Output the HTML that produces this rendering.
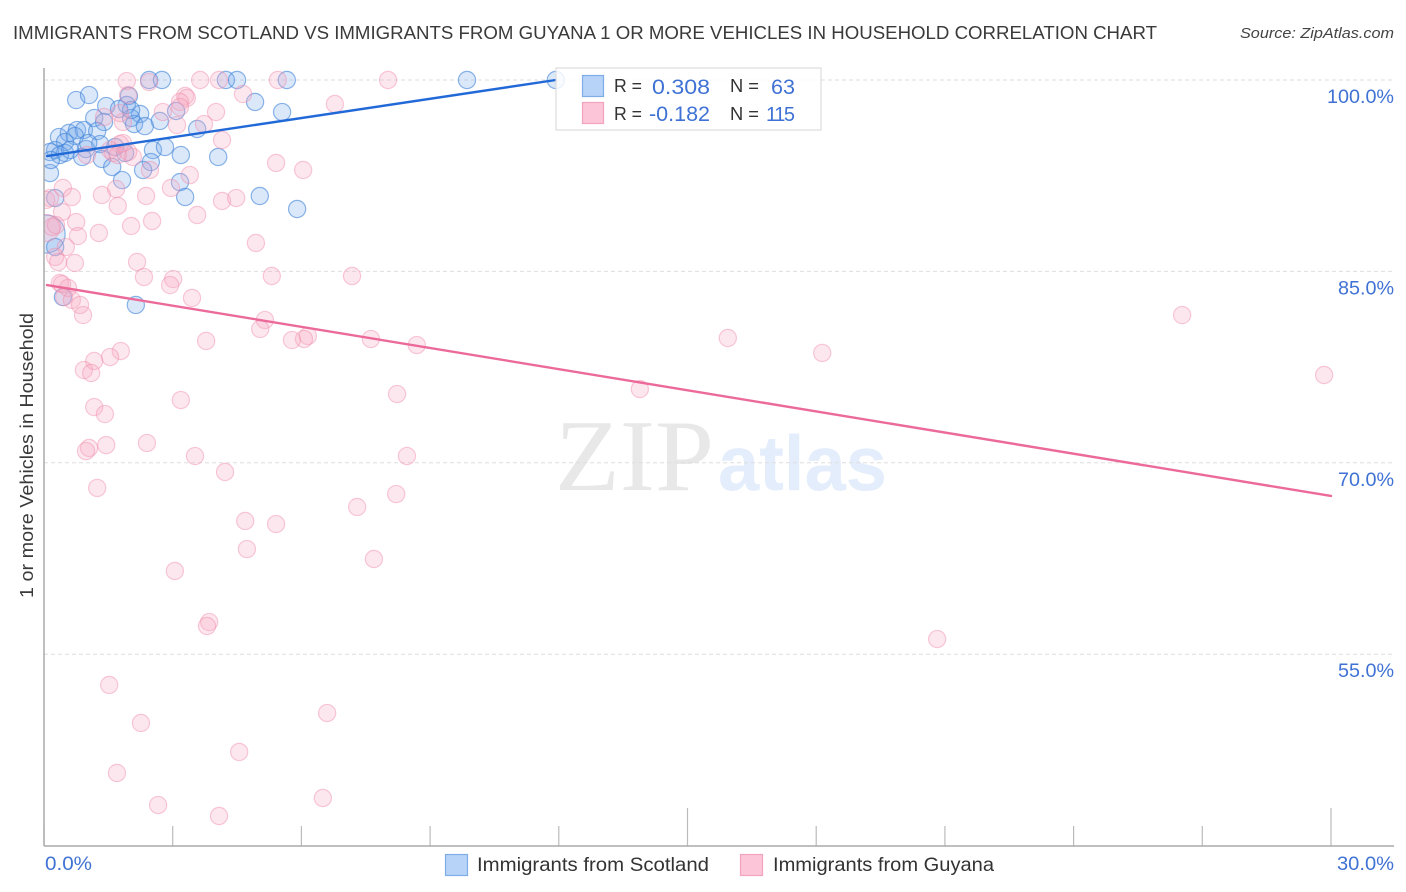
<!DOCTYPE html>
<html lang="en">
<head>
<meta charset="utf-8">
<title>Immigrants from Scotland vs Immigrants from Guyana correlation chart</title>
<style>
html,body{margin:0;padding:0;background:#fff;width:1406px;height:892px;overflow:hidden}
svg{display:block;font-family:"Liberation Sans",sans-serif}
</style>
</head>
<body>
<svg id="chart" xmlns="http://www.w3.org/2000/svg" width="1406" height="892" viewBox="0 0 1406 892">
  <defs>
    <clipPath id="plot-clip"><rect x="44" y="60" width="1362" height="786"/></clipPath>
  </defs>
  <text x="13" y="39" font-size="18" fill="#3a3a3a" textLength="1144" lengthAdjust="spacingAndGlyphs">IMMIGRANTS FROM SCOTLAND VS IMMIGRANTS FROM GUYANA 1 OR MORE VEHICLES IN HOUSEHOLD CORRELATION CHART</text>
  <text x="1240" y="38" font-size="15" font-style="italic" fill="#444" textLength="154" lengthAdjust="spacingAndGlyphs">Source: ZipAtlas.com</text>
  <g>
    <text x="555" y="490" font-family="'Liberation Serif',serif" font-size="102" fill="#e8e8e8" textLength="159" lengthAdjust="spacingAndGlyphs">ZIP</text>
    <text x="718" y="490" font-family="'Liberation Sans',sans-serif" font-weight="bold" font-size="78" fill="#e4edfb" textLength="169" lengthAdjust="spacingAndGlyphs">atlas</text>
  </g>
  <g id="grid"></g>
  <g id="x-ticks"></g>
  <g id="points" clip-path="url(#plot-clip)"></g>
  <g id="trends"></g>
  <line x1="44" y1="68" x2="44" y2="846" stroke="#aaa" stroke-width="1.5"/>
  <line x1="44" y1="846" x2="1394" y2="846" stroke="#aaa" stroke-width="1.5"/>
  <g id="y-labels"></g>
  <g id="x-labels"></g>
  <text transform="translate(33,598) rotate(-90)" font-size="18" fill="#3a3a3a" textLength="285" lengthAdjust="spacingAndGlyphs">1 or more Vehicles in Household</text>

  <g>
    <rect x="556" y="68" width="265" height="62" fill="#fff" fill-opacity="0.82" stroke="#ddd" stroke-width="1.2"/>
    <rect x="582.5" y="75.5" width="21" height="21" fill="#b7d3f7" stroke="#7fade8" stroke-width="1.2"/>
    <rect x="582.5" y="102.5" width="21" height="21" fill="#fcc5d8" stroke="#f4a3bf" stroke-width="1.2"/>
    <text x="614" y="92" font-size="18" fill="#333" textLength="28" lengthAdjust="spacingAndGlyphs">R =</text>
    <text x="652" y="94" font-size="21" fill="#3f72d4" textLength="58" lengthAdjust="spacingAndGlyphs">0.308</text>
    <text x="730" y="92" font-size="18" fill="#333" textLength="29" lengthAdjust="spacingAndGlyphs">N =</text>
    <text x="771" y="94" font-size="21" fill="#3f72d4" textLength="24" lengthAdjust="spacingAndGlyphs">63</text>
    <text x="614" y="120" font-size="18" fill="#333" textLength="28" lengthAdjust="spacingAndGlyphs">R =</text>
    <text x="649" y="121" font-size="21" fill="#3f72d4" textLength="61" lengthAdjust="spacingAndGlyphs">-0.182</text>
    <text x="730" y="120" font-size="18" fill="#333" textLength="29" lengthAdjust="spacingAndGlyphs">N =</text>
    <text x="766" y="121" font-size="20" fill="#3f72d4" textLength="29" lengthAdjust="spacing">115</text>
  </g>

  <g>
    <rect x="445.5" y="854.5" width="22" height="21" fill="#b7d3f7" stroke="#7fade8" stroke-width="1.2"/>
    <text x="477" y="871" font-size="19.5" fill="#333" textLength="232" lengthAdjust="spacingAndGlyphs">Immigrants from Scotland</text>
    <rect x="740.5" y="854.5" width="22" height="21" fill="#fcc5d8" stroke="#f4a3bf" stroke-width="1.2"/>
    <text x="773" y="871" font-size="19.5" fill="#333" textLength="221" lengthAdjust="spacingAndGlyphs">Immigrants from Guyana</text>
  </g>
</svg>
<script>
const xTickValues = [0, 3, 6, 9, 12, 15, 18, 21, 24, 27, 30];
const xLabelValues = [0, 30];
const xLabelText = ["0.0%", "30.0%"];
const yTickValues = [100, 85, 70, 55];
const yLabelText = ["100.0%", "85.0%", "70.0%", "55.0%"];

const scotlandX = [2.45,2.75,4.24,4.50,5.66,9.86,11.93,0.75,1.05,1.98,1.45,1.93,1.75,4.92,5.55,2.24,2.03,1.17,1.40,2.70,3.08,3.57,0.35,0.58,0.77,0.93,1.24,0.72,0.49,2.10,2.35,1.31,2.54,2.82,3.19,4.06,0.26,0.49,0.14,0.37,0.98,0.89,1.66,1.89,1.35,1.59,2.49,2.31,0.14,0.16,1.82,3.17,3.29,5.03,5.90,0.26,0.26,0.44,2.14,0.61,1.03,2.03];
const scotlandY = [100,100,100,100,100,100,100,98.43,98.82,98.75,97.96,98.04,97.73,98.28,97.49,97.34,97.02,97.02,96.71,96.79,97.57,96.16,95.53,95.85,96.08,96.08,96.00,95.61,95.14,96.55,96.39,94.98,94.51,94.75,94.12,93.97,94.51,94.28,94.36,94.12,94.59,93.97,94.75,94.28,93.81,93.18,93.57,92.95,92.71,93.73,92.16,92.00,90.83,90.91,89.89,90.75,86.91,82.99,82.37,94.51,95.06,97.65];
const scotlandLargeX = [0.05];
const scotlandLargeY = [87.93];

const guyanaX = [1.93,2.45,3.64,4.08,5.45,8.02,6.78,3.29,3.33,4.64,2.77,3.17,4.01,1.96,1.84,1.40,3.10,3.73,4.15,1.84,1.61,1.00,2.07,2.47,3.40,2.96,5.41,6.04,0.44,0.65,0.14,1.35,1.68,1.72,2.38,0.42,4.15,4.48,3.57,0.75,0.79,1.28,2.03,2.52,4.94,0.51,0.26,0.33,0.72,2.17,2.33,3.01,2.94,5.31,0.37,0.56,0.47,0.65,0.84,0.91,3.45,5.15,5.04,0.19,7.18,26.53,15.94,18.14,29.84,13.89,8.69,7.62,6.15,6.06,5.78,3.78,8.23,1.79,1.54,1.17,0.93,1.10,1.17,1.42,3.19,2.40,1.45,1.05,0.98,3.52,4.22,8.46,1.24,8.21,7.30,4.69,5.41,4.73,7.69,3.05,3.85,3.80,20.82,1.52,2.26,6.60,4.55,1.70,6.50,2.66,4.08,1.96,1.77,1.54,1.72,3.17,1.77,0.05,0.28,0.42];
const guyanaY = [99.92,99.84,100,100,100,100,98.12,98.75,98.59,98.90,97.49,98.28,97.49,98.82,96.71,97.10,96.47,96.55,95.30,95.06,94.28,94.12,93.97,92.95,92.55,91.54,93.50,92.95,91.54,90.83,90.75,90.99,91.46,90.13,90.91,89.66,90.52,90.75,89.42,88.87,87.77,88.01,88.56,88.95,87.23,86.91,86.13,85.74,85.66,85.74,84.56,84.40,83.93,84.64,84.09,83.70,82.99,82.76,82.37,81.58,82.92,81.19,80.49,88.48,84.64,81.58,79.78,78.61,76.88,75.78,79.23,79.70,79.94,79.70,79.62,79.55,75.39,78.76,78.29,77.98,77.27,77.04,74.37,73.82,74.92,71.55,71.39,71.16,70.92,70.53,69.28,70.53,68.03,67.55,66.54,65.44,65.20,63.24,62.46,61.52,57.52,57.21,56.19,52.59,49.61,50.39,47.34,45.69,43.73,43.18,42.32,94.36,94.98,94.51,94.12,97.88,97.41,90.60,88.63,84.00];
const guyanaLargeX = [0.05];
const guyanaLargeY = [88.40];

const scotlandTrendX = [0.07, 11.93];
const scotlandTrendY = [94.04, 100];
const guyanaTrendX = [0.07, 30];
const guyanaTrendY = [83.93, 67.40];

const SVG_NS = "http://www.w3.org/2000/svg";
function xScale(v) { return 44 + v * 42.9; }
function yScale(v) { return 80 + (100 - v) * 12.76; }
function make(tag, attrs, parent) {
  const el = document.createElementNS(SVG_NS, tag);
  for (const k in attrs) el.setAttribute(k, attrs[k]);
  parent.appendChild(el);
  return el;
}

const gridLayer = document.getElementById("grid");
yTickValues.forEach(function (v) {
  const el = make("line", { x1: 44, x2: 1394, y1: yScale(v), y2: yScale(v), stroke: "#dedede", "stroke-width": 1, "stroke-dasharray": "4 3" }, gridLayer);
  
  
});

const xTickLayer = document.getElementById("x-ticks");
xTickValues.forEach(function (v, i) {
  const tall = i === 5 || i === 10;
  const el = make("line", { x1: xScale(v), x2: xScale(v), y1: tall ? 808 : 826, y2: 846, stroke: "#bbb", "stroke-width": 1.2 }, xTickLayer);
  
  
});

const pointLayer = document.getElementById("points");
function drawPoints(xs, ys, r, fill, stroke) {
  xs.forEach(function (v, i) {
    const el = make("circle", { cx: xScale(v), cy: yScale(ys[i]), r: r, fill: fill, stroke: stroke, "stroke-width": 1.2 }, pointLayer);
    
    
  });
}
const blueFill = "rgba(120,170,235,0.27)";
const blueStroke = "rgba(60,130,215,0.58)";
const pinkFill = "rgba(248,170,195,0.28)";
const pinkStroke = "rgba(240,140,170,0.45)";
drawPoints(scotlandLargeX, scotlandLargeY, 19, blueFill, blueStroke);
drawPoints(scotlandX, scotlandY, 8.6, blueFill, blueStroke);
drawPoints(guyanaLargeX, guyanaLargeY, 13.5, pinkFill, pinkStroke);
drawPoints(guyanaX, guyanaY, 8.6, pinkFill, pinkStroke);

const trendLayer = document.getElementById("trends");
function drawTrend(xs, ys, color, name) {
  const el = make("line", { x1: xScale(xs[0]), y1: yScale(ys[0]), x2: xScale(xs[1]), y2: yScale(ys[1]), stroke: color, "stroke-width": 2.4, "stroke-linecap": "round" }, trendLayer);
  
  
}
drawTrend(scotlandTrendX, scotlandTrendY, "#2269d8", "trend-line-scotland");
drawTrend(guyanaTrendX, guyanaTrendY, "#ec6a9a", "trend-line-guyana");

const yLabelLayer = document.getElementById("y-labels");
yTickValues.forEach(function (v, i) {
  const el = make("text", { x: 1394, y: yScale(v) + 23, "text-anchor": "end", "font-size": 19, fill: "#3f72d4", textLength: i === 0 ? 67 : 56, lengthAdjust: "spacingAndGlyphs" }, yLabelLayer);
  el.textContent = yLabelText[i];
  
  
});

const xLabelLayer = document.getElementById("x-labels");
xLabelValues.forEach(function (v, i) {
  const el = make("text", { x: i === 0 ? xScale(v) + 1 : 1394, y: 870, "text-anchor": i === 0 ? "start" : "end", "font-size": 19, fill: "#3f72d4", textLength: i === 0 ? 47 : 57, lengthAdjust: "spacingAndGlyphs" }, xLabelLayer);
  el.textContent = xLabelText[i];
  
  
});
</script>
</body>
</html>
